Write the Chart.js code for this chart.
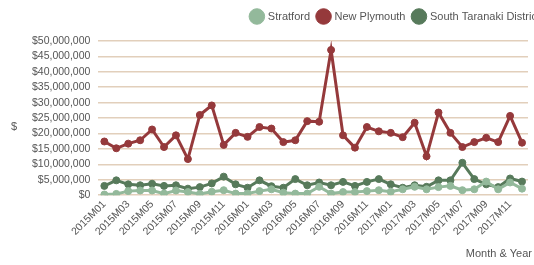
<!DOCTYPE html>
<html lang="en">
<head>
    <meta charset="UTF-8">
    <title>Monthly Value by District</title>
    <script src="https://cdn.jsdelivr.net/npm/chart.js@4.4.1/dist/chart.umd.min.js"></script>
    <style>
        * {
            margin: 0;
            padding: 0;
            box-sizing: border-box;
        }

        body {
            background: #ffffff;
        }

        .chart-box {
            width: 534px;
            height: 265px;
        }
    </style>
</head>
<body>
    <div class="chart-box">
        <canvas id="districtChart"></canvas>
    </div>

    <script>
        const months = [
            '2015M01', '2015M02', '2015M03', '2015M04', '2015M05', '2015M06',
            '2015M07', '2015M08', '2015M09', '2015M10', '2015M11', '2015M12',
            '2016M01', '2016M02', '2016M03', '2016M04', '2016M05', '2016M06',
            '2016M07', '2016M08', '2016M09', '2016M10', '2016M11', '2016M12',
            '2017M01', '2017M02', '2017M03', '2017M04', '2017M05', '2017M06',
            '2017M07', '2017M08', '2017M09', '2017M10', '2017M11', '2017M12'
        ];

        const stratford = [
            200000, 400000, 1300000, 1500000, 1500000, 500000,
            1500000, 1000000, 400000, 1100000, 1600000, 500000,
            500000, 1300000, 1900000, 800000, 500000, 500000,
            2700000, 500000, 1000000, 1000000, 1300000, 1600000,
            1100000, 1900000, 2700000, 1900000, 2600000, 3000000,
            1600000, 1900000, 4400000, 1900000, 4100000, 2100000
        ];

        const newPlymouth = [
            17400000, 15200000, 16700000, 17800000, 21300000, 15600000,
            19400000, 11700000, 26000000, 29100000, 16300000, 20200000,
            18900000, 22100000, 21600000, 17200000, 17800000, 24000000,
            23800000, 47100000, 19400000, 15400000, 22100000, 20700000,
            20200000, 18800000, 23500000, 12600000, 26800000, 20200000,
            15600000, 17200000, 18600000, 17200000, 25700000, 17000000
        ];

        const southTaranaki = [
            3000000, 4800000, 3500000, 3200000, 3700000, 3000000,
            3200000, 2100000, 2600000, 3800000, 6000000, 3500000,
            2400000, 4800000, 2900000, 2400000, 5200000, 3200000,
            4100000, 3200000, 4300000, 3000000, 4300000, 5200000,
            3500000, 2400000, 3200000, 2700000, 4800000, 4800000,
            10500000, 5200000, 3500000, 2600000, 5400000, 4400000
        ];

        const textColor = '#555555';
        const fontFamily = "'Liberation Sans', Arial, sans-serif";

        // axis titles drawn as plain text, "$" stays upright like the original
        const axisTitles = {
            id: 'axisTitles',
            afterDraw(chart) {
                const ctx = chart.ctx;
                ctx.save();
                ctx.fillStyle = textColor;
                ctx.font = '11px ' + fontFamily;
                ctx.textBaseline = 'middle';
                ctx.textAlign = 'center';
                ctx.fillText('$', 14, 127);
                ctx.textAlign = 'right';
                ctx.fillText('Month & Year', 532, 254);
                ctx.restore();
            }
        };

        // extra gap under the legend, and push it right so it runs off the edge like the original
        const legendTweak = {
            id: 'legendTweak',
            beforeInit(chart) {
                const legend = chart.legend;
                const origFit = legend.fit;
                legend.fit = function () {
                    origFit.bind(legend)();
                    this.height += 9;
                };
                const origDraw = legend.draw;
                legend.draw = function () {
                    chart.ctx.save();
                    chart.ctx.translate(18, 0);
                    origDraw.apply(legend, arguments);
                    chart.ctx.restore();
                };
            }
        };

        function makeSeries(label, data, color) {
            return {
                label: label,
                data: data,
                borderColor: color,
                backgroundColor: color,
                pointBackgroundColor: color,
                pointBorderColor: color,
                borderWidth: 3,
                pointBorderWidth: 1,
                pointRadius: 3.5,
                pointHoverRadius: 3.5,
                tension: 0
            };
        }

        const ctx = document.getElementById('districtChart').getContext('2d');
        new Chart(ctx, {
            type: 'line',
            data: {
                labels: months,
                datasets: [
                    makeSeries('Stratford', stratford, '#93b99b'),
                    makeSeries('New Plymouth', newPlymouth, '#95393b'),
                    makeSeries('South Taranaki District', southTaranaki, '#577a5b')
                ]
            },
            options: {
                responsive: true,
                maintainAspectRatio: false,
                animation: false,
                layout: {
                    padding: { left: 24, right: 4, top: 3, bottom: 24 }
                },
                plugins: {
                    legend: {
                        position: 'top',
                        align: 'end',
                        labels: {
                            usePointStyle: true,
                            pointStyle: 'circle',
                            boxHeight: 11,
                            color: textColor,
                            font: { family: fontFamily, size: 11 },
                            padding: 8,
                            generateLabels: function (chart) {
                                const items = Chart.defaults.plugins.legend.labels.generateLabels(chart);
                                items.forEach(function (item) { item.lineWidth = 1; });
                                return items;
                            }
                        }
                    },
                    tooltip: { enabled: false }
                },
                scales: {
                    x: {
                        offset: true,
                        grid: { display: false, drawTicks: false },
                        border: { display: false },
                        ticks: {
                            autoSkip: false,
                            minRotation: 45,
                            maxRotation: 45,
                            color: textColor,
                            font: { family: fontFamily, size: 10.5 },
                            callback: function (value, index) {
                                return index % 2 === 0 ? months[index] : '';
                            }
                        }
                    },
                    y: {
                        min: 0,
                        max: 50000000,
                        grid: {
                            color: '#e2cfbb',
                            lineWidth: 1.5,
                            drawTicks: false
                        },
                        border: { display: false },
                        ticks: {
                            stepSize: 5000000,
                            autoSkip: false,
                            padding: 8,
                            color: textColor,
                            font: { family: fontFamily, size: 10.5 },
                            callback: function (value) {
                                return '$' + value.toLocaleString('en-US');
                            }
                        }
                    }
                }
            },
            plugins: [axisTitles, legendTweak]
        });
    </script>
</body>
</html>
